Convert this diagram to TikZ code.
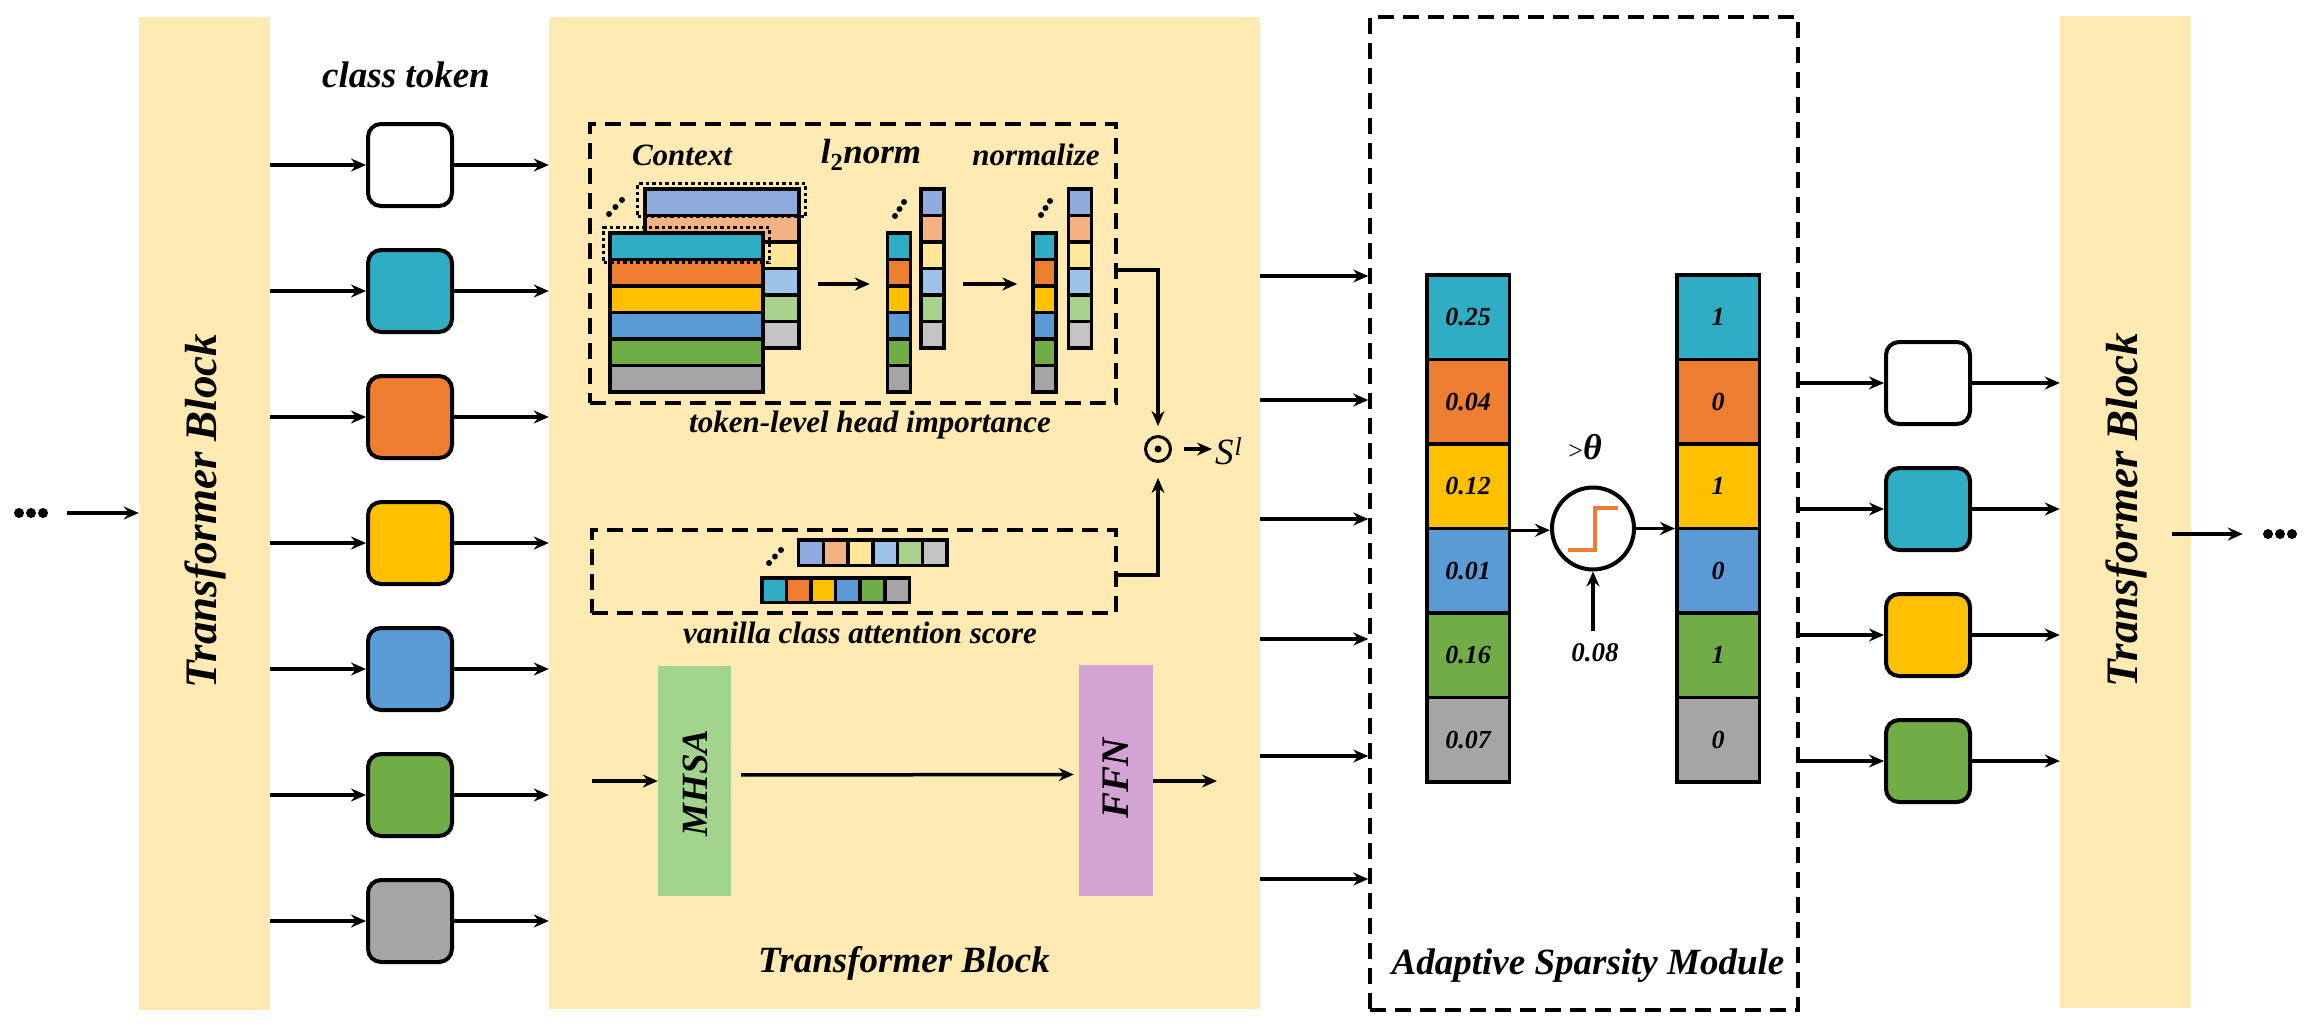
\documentclass[tikz,border=0pt]{standalone}
\usepackage{fontspec}
\setmainfont{Liberation Serif}
\usetikzlibrary{arrows.meta,calc}
\definecolor{bg}{HTML}{FFEAB4}
\definecolor{cteal}{HTML}{2FADC4}
\definecolor{corange}{HTML}{ED7D31}
\definecolor{cyellow}{HTML}{FFC000}
\definecolor{cblue}{HTML}{5B9BD5}
\definecolor{cgreen}{HTML}{70AD47}
\definecolor{cgray}{HTML}{A5A5A5}
\definecolor{llav}{HTML}{8FAADC}
\definecolor{lpeach}{HTML}{F4B183}
\definecolor{lyellow}{HTML}{FFE699}
\definecolor{lblue}{HTML}{9DC3E6}
\definecolor{lgreen}{HTML}{A9D18E}
\definecolor{lgray}{HTML}{C3C3C3}
\definecolor{mhsac}{HTML}{A2D48D}
\definecolor{ffnc}{HTML}{D3A3D3}
\begin{document}
\begin{tikzpicture}[x=1pt,y=-1pt,
  f26/.style={font=\fontsize{26}{28}\selectfont\bfseries\itshape},
  f31/.style={font=\fontsize{31}{34}\selectfont\bfseries\itshape},
  f37/.style={font=\fontsize{37}{40}\selectfont\bfseries\itshape},
  f45/.style={font=\fontsize{45}{48}\selectfont\bfseries\itshape},
  lab/.style={inner sep=0pt},
  arr/.style={line width=3.5pt, -{Stealth[length=15pt,width=13pt,inset=5pt]}},
  tok/.style={draw, line width=4pt, rounded corners=13pt, minimum width=84pt, minimum height=82pt, inner sep=0pt},
  cell/.style={draw, line width=3.5pt, inner sep=0pt},
  dbox/.style={draw, line width=3.5pt, dash pattern=on 16pt off 9pt, inner sep=0pt},
  dotbox/.style={draw, line width=3.5pt, dash pattern=on 3.5pt off 3pt, inner sep=0pt},
  blk/.style={fill=bg, draw=none, inner sep=0pt},
]
\fill[white] (0,0) rectangle (2315,1028);
\useasboundingbox (0,0) rectangle (2315,1028);

% ---------------- blocks ----------------
\node[blk, minimum width=131pt, minimum height=993pt] (tb1) at (204.5,513.5) {};
\node[blk, minimum width=711pt, minimum height=992pt] (mb) at (904.5,513) {};
\node[blk, minimum width=131pt, minimum height=992pt] (tb3) at (2125.5,512) {};
\node[lab, f45, rotate=90] (tb1l) at (205,511) {Transformer Block};
\node[lab, f45, rotate=90] (tb3l) at (2126,510) {Transformer Block};
\node[lab, f37] (mbl) at (904,963) {Transformer Block};

% ---------------- left dots ----------------
\node[minimum width=34pt, minimum height=10pt, inner sep=0pt] (ldots) at (31,513) {};
\foreach \dx in {-12,0,12} \fill ($(ldots.center)+(\dx,0)$) circle (5);
\draw[arr, shorten <=19pt] (ldots.east) -- (ldots.east -| tb1.west);

% ---------------- class tokens ----------------
\node[lab, f37] (ctl) at (406,75) {class token};
\foreach \c [count=\i] in {white,cteal,corange,cyellow,cblue,cgreen,cgray} {
  \node[tok, fill=\c] (t\i) at (410,{165+126*(\i-1)}) {};
  \draw[arr] (tb1.east |- t\i) -- (t\i.west);
  \draw[arr] (t\i.east) -- (t\i -| mb.west);
}

% ---------------- token-level head importance ----------------
\node[dbox, minimum width=526pt, minimum height=279pt] (ctx) at (853,263.5) {};
\node[lab, f31] (ctxl) at (682,155) {Context};
\node[lab, font=\fontsize{35}{38}\selectfont\bfseries\itshape] (l2l) at (871,155) {l\textsubscript{\upshape 2}norm};
\node[lab, f31] (nml) at (1036,155) {normalize};
\node[lab, f31] (thil) at (870,425) {token-level head importance};

% back stack
\foreach \c [count=\i from 0] in {llav,lpeach,lyellow,lblue,lgreen,lgray}
  \node[cell, fill=\c, minimum width=154pt, minimum height=26.5pt] (cb\i) at (722,{202+26.5*\i}) {};
\node[dotbox, minimum width=168pt, minimum height=33pt] (dot1) at (721.5,200) {};
% front stack
\foreach \c [count=\i from 0] in {cteal,corange,cyellow,cblue,cgreen,cgray}
  \node[cell, fill=\c, minimum width=153pt, minimum height=26.5pt] (cf\i) at (686.5,{246+26.5*\i}) {};
\node[dotbox, minimum width=166pt, minimum height=35pt] (dot2) at (686.5,245) {};
\foreach \p in {(609,214),(615.5,207),(622,200)} \fill \p circle (3);

% l2norm columns
\foreach \c [count=\i from 0] in {cteal,corange,cyellow,cblue,cgreen,cgray}
  \node[cell, fill=\c, minimum width=23pt, minimum height=26.5pt] (lf\i) at (899,{246+26.5*\i}) {};
\foreach \c [count=\i from 0] in {llav,lpeach,lyellow,lblue,lgreen,lgray}
  \node[cell, fill=\c, minimum width=23pt, minimum height=26.5pt] (lb\i) at (932.5,{202+26.5*\i}) {};
\foreach \p in {(895,216),(899.5,209),(904,202)} \fill \p circle (3);

% normalize columns
\foreach \c [count=\i from 0] in {cteal,corange,cyellow,cblue,cgreen,cgray}
  \node[cell, fill=\c, minimum width=23pt, minimum height=26.5pt] (nf\i) at (1044.5,{246+26.5*\i}) {};
\foreach \c [count=\i from 0] in {llav,lpeach,lyellow,lblue,lgreen,lgray}
  \node[cell, fill=\c, minimum width=23pt, minimum height=26.5pt] (nb\i) at (1080,{202+26.5*\i}) {};
\foreach \p in {(1041,215),(1045.5,208),(1050,201)} \fill \p circle (3);

\coordinate (ar1s) at (818,284);
\coordinate (ar2s) at (963,284);
\draw[arr, shorten >=16pt] (ar1s) -- (ar1s -| lf3.west);
\draw[arr, shorten >=14pt] (ar2s) -- (ar2s -| nf3.west);

% ---------------- vanilla class attention score ----------------
\node[dbox, minimum width=524pt, minimum height=83pt] (van) at (854,571.5) {};
\node[lab, f31] (vanl) at (860,633) {vanilla class attention score};
\foreach \c [count=\i from 0] in {llav,lpeach,lyellow,lblue,lgreen,lgray}
  \node[cell, fill=\c, minimum width=24.75pt, minimum height=25.5pt] (vb\i) at ({811.1+24.75*\i},552.5) {};
\foreach \c [count=\i from 0] in {cteal,corange,cyellow,cblue,cgreen,cgray}
  \node[cell, fill=\c, minimum width=24.6pt, minimum height=24.5pt] (vf\i) at ({774.05+24.6*\i},590) {};
\foreach \p in {(769,563),(775,556.5),(781,550)} \fill \p circle (3);

% ---------------- odot and S^l ----------------
\node[circle, draw, line width=3pt, minimum size=25pt, inner sep=0pt] (od) at (1158,449) {};
\fill (od.center) circle (3.5);
\coordinate (cx) at (1116,270);
\coordinate (vx) at (1116,575);
\draw[arr, shorten >=9pt] (cx) -| (od.north);
\draw[arr, shorten >=15pt] (vx) -| (od.south);
\node[lab, anchor=west, font=\fontsize{37}{40}\selectfont\itshape] (sl) at (1215,451) {S\textsuperscript{\kern1pt l}};
\draw[arr, shorten <=12pt, shorten >=3pt] (od.east) -- (od.east -| sl.west);

% ---------------- MHSA / FFN ----------------
\node[fill=mhsac, minimum width=73pt, minimum height=230pt, inner sep=0pt] (mhsa) at (694.5,781) {};
\node[fill=ffnc, minimum width=74pt, minimum height=231pt, inner sep=0pt] (ffn) at (1116,780.5) {};
\node[lab, f37, rotate=90] (mhsal) at (695,783) {MHSA};
\node[lab, font=\fontsize{39}{42}\selectfont\bfseries\itshape, rotate=90] (ffnl) at (1116,778.5) {FFN};
\coordinate (mhin) at (592,781);
\coordinate (ffout) at (1217,781);
\draw[arr] (mhin) -- (mhin -| mhsa.west);
\draw[arr, shorten <=10pt, shorten >=5pt] ([yshift=6pt]mhsa.east) -- ([yshift=6pt]ffn.west);
\draw[arr] (ffout -| ffn.east) -- (ffout);

% ---------------- Adaptive Sparsity Module ----------------
\node[dbox, minimum width=428pt, minimum height=993pt] (asm) at (1584,513.5) {};
\node[lab, f37] (asml) at (1588,966) {Adaptive Sparsity Module};
\foreach \y [count=\i] in {276,400,519,639,756,879} {
  \coordinate (m\i) at (0,\y);
  \draw[arr] (mb.east |- m\i) -- (asm.west |- m\i);
}
\foreach \c/\v [count=\i] in {cteal/0.25,corange/0.04,cyellow/0.12,cblue/0.01,cgreen/0.16,cgray/0.07}
  \node[cell, f26, fill=\c, minimum width=82.5pt, minimum height=84.5pt] (a\i) at (1468,{317.25+84.5*(\i-1)}) {\v};
\foreach \c/\v [count=\i] in {cteal/1,corange/0,cyellow/1,cblue/0,cgreen/1,cgray/0}
  \node[cell, f26, fill=\c, minimum width=82.5pt, minimum height=84.5pt] (b\i) at (1718,{317.25+84.5*(\i-1)}) {\v};
\node[circle, draw, line width=4pt, fill=white, minimum size=82pt, inner sep=0pt] (thr) at (1593,528.5) {};
\draw[corange, line width=4pt] ($(thr.center)+(-25,21)$) -- ($(thr.center)+(2,21)$) -- ($(thr.center)+(2,-21)$) -- ($(thr.center)+(25,-21)$);
\draw[arr] (a3.south east) -- (a3.south east -| thr.west);
\draw[arr] (thr.east) -- (thr.east -| b3.west);
\node[lab] (gtl) at (1585,447) {{\fontsize{26}{28}\selectfont >}{\fontsize{36}{38}\selectfont\bfseries\itshape θ}};
\node[lab, font=\fontsize{27}{29}\selectfont\bfseries\itshape] (thv) at (1595,653) {0.08};
\draw[arr, shorten <=13pt] (thv.north -| thr.south) -- (thr.south);

% ---------------- right tokens ----------------
\foreach \c [count=\i] in {white,cteal,cyellow,cgreen} {
  \node[tok, fill=\c] (r\i) at (1928,{383+126*(\i-1)}) {};
  \draw[arr] (asm.east |- r\i) -- (r\i.west);
  \draw[arr] (r\i.east) -- (r\i -| tb3.west);
}

% ---------------- right dots ----------------
\coordinate (rex) at (2172,534);
\node[minimum width=34pt, minimum height=10pt, inner sep=0pt] (rdots) at (2280,534) {};
\foreach \dx in {-12,0,12} \fill ($(rdots.center)+(\dx,0)$) circle (5);
\draw[arr, shorten >=20pt] (rex) -- (rdots.west);
\end{tikzpicture}
\end{document}
